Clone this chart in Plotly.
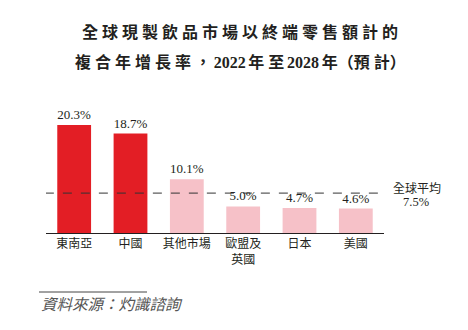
import plotly.graph_objects as go

# Data
categories = ["東南亞", "中國", "其他市場", "歐盟及英國", "日本", "美國"]
tick_labels = ["東南亞", "中國", "其他市場", "歐盟及<br>英國", "日本", "美國"]
cagr = [20.3, 18.7, 10.1, 5.0, 4.7, 4.6]
highlight = [True, True, False, False, False, False]
global_avg = 7.5
avg_label = "全球平均"
title_lines = ["全球現製飲品市場以終端零售額計的", "複合年增長率，2022年至2028年（預計）"]
source_text = "資料來源：灼識諮詢"

RED = "#e31e25"
PINK = "#f6c1c8"
W, H = 468, 330
M_L, M_R, M_T, M_B = 46, 84, 100, 97
PLOT_H = H - M_T - M_B
PLOT_W = W - M_L - M_R

SERIF = "Liberation Serif, Noto Sans CJK TC, serif"
CJK = "Noto Sans CJK TC, sans-serif"
NO_GAP = set("（）")


def py(pix_y):
    """Pixel row -> paper y."""
    return (H - M_B - pix_y) / PLOT_H


def px(pix_x):
    """Pixel column -> paper x."""
    return (pix_x - M_L) / PLOT_W


def spaced(text, gap="\u2005", thin="\u2006"):
    """Open up the tracking between CJK ideographs (and a bit around digits)."""
    out = text[0]
    for a, b in zip(text, text[1:]):
        wa, wb = ord(a) > 127, ord(b) > 127
        if wa and wb and a not in NO_GAP and b not in NO_GAP:
            out += gap
        elif wa != wb and a not in NO_GAP and b not in NO_GAP:
            out += thin
        out += b
    return out


fig = go.Figure()
fig.add_trace(go.Bar(
    x=categories,
    y=cagr,
    width=0.6,
    marker=dict(color=[RED if h else PINK for h in highlight], line=dict(width=0)),
    text=[f"{v:.1f}%" for v in cagr],
    textposition="outside",
    textfont=dict(family=SERIF, size=13, color="#231f20"),
    cliponaxis=False,
    hoverinfo="skip",
))

# Global average reference line with a small arrowhead at its end
line_end = 5.58
fig.add_shape(type="line", xref="x", yref="y", x0=-0.52, x1=line_end,
              y0=global_avg, y1=global_avg,
              line=dict(color="#333333", width=1, dash="dash"))
fig.add_annotation(x=line_end, y=global_avg, xref="x", yref="y", text="◀",
                   showarrow=False, xanchor="center", yanchor="middle",
                   font=dict(size=7, color="#231f20", family="DejaVu Sans"))
fig.add_annotation(x=px(391), y=py(187), xref="paper", yref="paper",
                   text=avg_label, showarrow=False, xanchor="left",
                   yanchor="middle",
                   font=dict(family=CJK, size=12, color="#231f20"))
fig.add_annotation(x=px(416), y=py(202), xref="paper", yref="paper",
                   text=f"{global_avg}%", showarrow=False, xanchor="center",
                   yanchor="middle",
                   font=dict(family=SERIF, size=12.5, color="#231f20"))

# Title
for text, x_pix, y_pix in zip(title_lines, [240, 240], [32, 62]):
    fig.add_annotation(x=px(x_pix), y=py(y_pix), xref="paper", yref="paper",
                       text=f"<b>{spaced(text)}</b>", showarrow=False,
                       xanchor="center", yanchor="middle",
                       font=dict(family=SERIF, size=16, color="#231f20"))

# Source note
fig.add_shape(type="line", xref="paper", yref="paper",
              x0=px(39), x1=px(147), y0=py(292), y1=py(292),
              line=dict(color="#444444", width=1))
fig.add_annotation(x=px(39), y=py(303), xref="paper", yref="paper",
                   text=f"<i>{source_text}</i>", showarrow=False,
                   xanchor="left", yanchor="middle",
                   font=dict(family=CJK, size=15.5, color="#555555"))

fig.update_layout(
    width=W, height=H,
    margin=dict(l=M_L, r=M_R, t=M_T, b=M_B),
    paper_bgcolor="white", plot_bgcolor="white",
    showlegend=False,
    bargap=0.4,
    xaxis=dict(
        type="category",
        tickmode="array", tickvals=categories, ticktext=tick_labels,
        range=[-0.5, 5.5],
        showline=True, linecolor="#231f20", linewidth=1,
        ticks="", showgrid=False, zeroline=False,
        tickfont=dict(family=CJK, size=12, color="#231f20"),
    ),
    yaxis=dict(range=[0, 25], visible=False, showgrid=False, zeroline=False),
)

fig.write_html("out.html")
